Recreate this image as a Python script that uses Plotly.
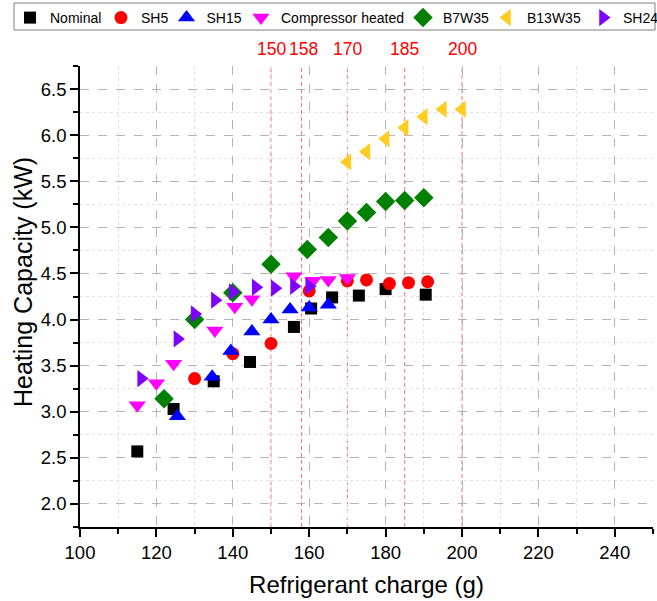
import plotly.graph_objects as go

# Heating capacity (kW) versus refrigerant charge (g) for each test condition
nominal_x = [115, 124.5, 135, 144.5, 156, 160.5, 166, 173, 180, 190.5]
nominal_y = [2.57, 3.03, 3.33, 3.54, 3.92, 4.12, 4.24, 4.26, 4.33, 4.27]

sh5_x = [130, 140, 150, 160, 170, 175, 181, 186, 191]
sh5_y = [3.36, 3.63, 3.74, 4.31, 4.42, 4.43, 4.39, 4.40, 4.41]

sh15_x = [125.5, 134.6, 139.5, 145, 150, 155, 160, 165]
sh15_y = [2.95, 3.38, 3.66, 3.87, 4.00, 4.11, 4.13, 4.16]

comp_x = [115, 120, 124.5, 135.3, 140.5, 145, 156, 161, 165, 170]
comp_y = [3.07, 3.31, 3.52, 3.88, 4.14, 4.22, 4.47, 4.42, 4.43, 4.45]

b7w35_x = [122, 130, 140, 150, 159.5, 165, 170, 175, 180, 185, 190]
b7w35_y = [3.14, 4.00, 4.29, 4.60, 4.76, 4.89, 5.07, 5.16, 5.28, 5.29, 5.32]

b13w35_x = [170, 175, 180, 185, 190, 195, 200]
b13w35_y = [5.71, 5.82, 5.96, 6.08, 6.20, 6.28, 6.28]

sh24_x = [116, 125.5, 130, 135.3, 140, 146, 151, 156, 160]
sh24_y = [3.36, 3.79, 4.06, 4.21, 4.30, 4.35, 4.34, 4.36, 4.36]

# Reference charge levels marked with vertical lines
ref_charges = [150, 158, 170, 185, 200]

series = [
    ("Nominal", nominal_x, nominal_y, "square", "#000000", 12),
    ("SH5", sh5_x, sh5_y, "circle", "#ff0000", 13),
    ("SH15", sh15_x, sh15_y, "triangle-up", "#0000ff", 15),
    ("Compressor heated", comp_x, comp_y, "triangle-down", "#ff00ff", 15),
    ("B7W35", b7w35_x, b7w35_y, "diamond", "#008000", 15),
    ("B13W35", b13w35_x, b13w35_y, "triangle-left", "#ffcc22", 15),
    ("SH24", sh24_x, sh24_y, "triangle-right", "#8000ff", 15),
]

FONT = "Arial, Liberation Sans, sans-serif"
W, H = 657, 601
ML, MR, MT, MB = 80, 4, 66, 74
PW, PH = W - ML - MR, H - MT - MB


def px_to_paper_x(px):
    return (px - ML) / PW


def px_to_paper_y(py):
    return 1 + (MT - py) / PH


# Legend layout: one single-entry legend per series, laid out in a row
legend_symbol_px = [30, 121, 186.5, 261, 423, 507, 603]
legend_row_py = 18

fig = go.Figure()
layout_legends = {}
for i, (name, xs, ys, sym, col, size) in enumerate(series):
    key = "legend" if i == 0 else f"legend{i + 1}"
    fig.add_trace(go.Scatter(
        x=xs, y=ys, mode="markers", name=name, legend=key, showlegend=True,
        marker=dict(symbol=sym, color=col, size=size, line=dict(width=0)),
    ))
    layout_legends[key] = dict(
        x=px_to_paper_x(legend_symbol_px[i] - 20), xanchor="left",
        y=px_to_paper_y(legend_row_py), yanchor="middle",
        bgcolor="rgba(0,0,0,0)", borderwidth=0,
        font=dict(family=FONT, size=14, color="black"),
        itemwidth=30,
    )

# Frame around the legend row
fig.add_shape(type="rect", xref="paper", yref="paper",
              x0=px_to_paper_x(14), x1=px_to_paper_x(655),
              y0=px_to_paper_y(30), y1=px_to_paper_y(3),
              line=dict(color="#7f7f7f", width=1), fillcolor="rgba(0,0,0,0)",
              layer="below")

label_shift = {158: 2}
for c in ref_charges:
    fig.add_shape(type="line", xref="x", yref="paper", x0=c, x1=c, y0=0, y1=1,
                  line=dict(color="#ff7070", width=1, dash="4px,3px"),
                  layer="between")
    fig.add_annotation(x=c, xref="x", y=1.0, yref="paper", yanchor="bottom",
                       yshift=5, xshift=label_shift.get(c, 0), text=str(c),
                       showarrow=False,
                       font=dict(family=FONT, size=17.5, color="#ff0000"))

# Y-axis title placed as a rotated label
fig.add_annotation(x=px_to_paper_x(23), xref="paper", y=px_to_paper_y(282), yref="paper",
                   text="Heating Capacity (kW)", textangle=-90, showarrow=False,
                   xanchor="center", yanchor="middle",
                   font=dict(family=FONT, size=25, color="black"))

axis_common = dict(
    showline=True, linecolor="black", linewidth=1.5,
    ticks="outside", ticklen=8, tickwidth=1.5, tickcolor="black",
    showgrid=True, gridcolor="#b4b4b4", griddash="dash", gridwidth=1,
    zeroline=False, mirror=False,
    tickfont=dict(family=FONT, size=18.5, color="black"),
)

fig.update_xaxes(
    range=[100, 250], dtick=20, tick0=100,
    title=dict(text="Refrigerant charge (g)", font=dict(family=FONT, size=24, color="black"), standoff=14),
    minor=dict(dtick=10, ticks="outside", ticklen=5, tickwidth=1.5, tickcolor="black",
               showgrid=True, gridcolor="#e2e2e2", griddash="dot", gridwidth=1),
    **axis_common,
)
fig.update_yaxes(
    range=[1.75, 6.75], dtick=0.5, tick0=2.0, tickformat=".1f",
    minor=dict(dtick=0.25, ticks="outside", ticklen=5, tickwidth=1.5, tickcolor="black",
               showgrid=True, gridcolor="#e2e2e2", griddash="dot", gridwidth=1),
    **axis_common,
)

fig.update_layout(
    width=W, height=H,
    margin=dict(l=ML, r=MR, t=MT, b=MB, autoexpand=False),
    plot_bgcolor="white", paper_bgcolor="white",
    font=dict(family=FONT, color="black"),
    showlegend=True,
    **layout_legends,
)

fig.write_html("out.html")
